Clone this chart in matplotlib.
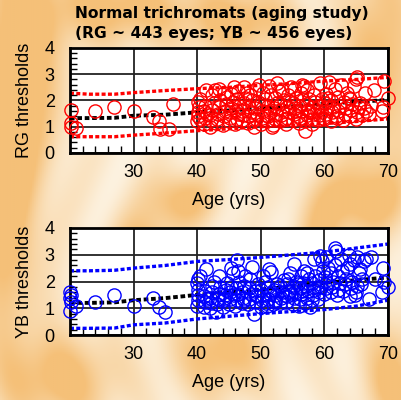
import numpy as np
import matplotlib
matplotlib.use("Agg")
import matplotlib.pyplot as plt
from matplotlib.ticker import MultipleLocator

# ---- data ----
rg_points = [
    (20.1, 1.65), (20.1, 1.15), (20.2, 1.0), (21.0, 0.95), (24.0, 1.6), (27.0, 1.75),
    (30.0, 1.6), (33.0, 1.38), (34.0, 1.2), (34.2, 0.92), (35.5, 0.9), (36.2, 1.85),
    (40.0, 1.2), (40.1, 1.4), (40.2, 1.55), (40.3, 1.75), (40.2, 1.95), (40.5, 2.05), (40.4, 1.3),
    (41.0, 1.1), (41.2, 1.35), (41.1, 1.6), (41.3, 1.8), (41.4, 2.4), (41.6, 1.5),
    (42.0, 1.0), (42.2, 1.25), (42.1, 1.45), (42.4, 1.65), (42.3, 2.2), (42.6, 1.9), (42.8, 2.4),
    (43.0, 1.15), (43.2, 1.3), (43.3, 1.5), (43.5, 1.75), (43.6, 2.0), (43.4, 2.45),
    (44.0, 1.05), (44.2, 1.4), (44.4, 1.6), (44.5, 1.85), (44.7, 2.15), (44.3, 2.3),
    (45.0, 1.2), (45.2, 1.35), (45.1, 1.55), (45.4, 1.7), (45.6, 1.95), (45.3, 2.25), (45.8, 2.5),
    (46.0, 1.1), (46.2, 1.3), (46.4, 1.5), (46.1, 1.65), (46.6, 1.8), (46.3, 2.05), (46.5, 2.35),
    (47.0, 1.25), (47.2, 1.45), (47.1, 1.6), (47.4, 1.9), (47.6, 2.1), (47.3, 2.5), (47.8, 2.3),
    (48.0, 1.15), (48.2, 1.4), (48.4, 1.55), (48.1, 1.75), (48.6, 2.0), (48.3, 2.2), (48.8, 1.3),
    (49.0, 1.0), (49.2, 1.3), (49.4, 1.5), (49.1, 1.7), (49.6, 1.95), (49.3, 2.45), (49.8, 2.6),
    (50.0, 1.1), (50.2, 1.35), (50.4, 1.6), (50.1, 1.85), (50.6, 2.05), (50.3, 2.3), (50.8, 1.45),
    (51.0, 1.2), (51.2, 1.4), (51.4, 1.55), (51.1, 1.8), (51.6, 2.2), (51.3, 2.55), (51.8, 1.0),
    (52.0, 1.05), (52.2, 1.3), (52.4, 1.5), (52.1, 1.7), (52.6, 1.9), (52.3, 2.1), (52.8, 2.35), (52.5, 2.65),
    (53.0, 1.2), (53.2, 1.45), (53.4, 1.65), (53.1, 1.85), (53.6, 2.0), (53.3, 2.4), (53.8, 1.3),
    (54.0, 1.1), (54.2, 1.35), (54.4, 1.55), (54.1, 1.75), (54.6, 1.95), (54.3, 2.2), (54.8, 2.5),
    (55.0, 1.25), (55.2, 1.5), (55.4, 1.7), (55.1, 1.9), (55.6, 2.1), (55.3, 2.45), (55.8, 1.4), (55.5, 1.6),
    (56.0, 1.15), (56.2, 1.35), (56.4, 1.6), (56.1, 1.8), (56.6, 2.0), (56.3, 2.3), (56.8, 2.55), (56.5, 2.6),
    (57.0, 1.2), (57.2, 1.45), (57.4, 1.65), (57.1, 1.85), (57.6, 2.05), (57.3, 2.4), (57.0, 0.85), (57.8, 1.55),
    (58.0, 1.1), (58.2, 1.3), (58.4, 1.5), (58.1, 1.75), (58.6, 1.95), (58.3, 2.2), (58.8, 1.6),
    (59.0, 1.25), (59.2, 1.45), (59.4, 1.6), (59.1, 1.8), (59.6, 2.05), (59.3, 2.65), (59.8, 1.35),
    (60.0, 1.3), (60.2, 1.5), (60.4, 1.7), (60.1, 1.9), (60.6, 2.1), (60.3, 2.25), (60.8, 2.7),
    (61.0, 1.2), (61.2, 1.55), (61.4, 1.75), (61.1, 2.0), (61.6, 2.45), (61.8, 1.4),
    (62.0, 1.35), (62.2, 1.6), (62.4, 1.8), (62.1, 2.15), (62.6, 2.6),
    (63.0, 1.25), (63.2, 1.5), (63.4, 1.7), (63.1, 1.95), (63.6, 2.3), (63.8, 2.1),
    (64.0, 1.4), (64.2, 1.65), (64.4, 1.85), (64.1, 2.05), (64.6, 2.55),
    (65.0, 1.3), (65.2, 1.55), (65.4, 1.75), (65.1, 2.9), (65.0, 2.8), (65.6, 1.9),
    (66.0, 1.45), (66.2, 1.7), (66.4, 2.3), (66.6, 1.6),
    (67.0, 1.5), (67.3, 1.8), (67.8, 2.4),
    (69.0, 1.6), (69.2, 1.75), (69.4, 2.75), (70.0, 2.1),
]

yb_points = [
    (20.0, 1.6), (20.1, 1.5), (20.0, 1.4), (20.1, 1.25), (20.0, 0.9), (21.0, 1.1),
    (24.0, 1.22), (27.0, 1.5), (30.0, 1.1), (33.0, 1.38), (34.0, 1.05), (35.0, 0.85),
    (40.0, 1.1), (40.1, 1.3), (40.2, 1.5), (40.1, 1.7), (40.0, 1.95), (40.2, 2.1), (40.4, 2.2),
    (41.0, 1.05), (41.2, 1.25), (41.1, 1.45), (41.3, 1.65), (41.4, 2.45), (41.6, 1.35),
    (42.0, 1.0), (42.2, 1.2), (42.1, 1.4), (42.4, 1.6), (42.3, 1.85), (42.6, 2.0),
    (43.0, 0.85), (43.2, 1.15), (43.3, 1.35), (43.5, 1.55), (43.6, 1.8), (43.4, 2.2),
    (44.0, 1.05), (44.2, 1.3), (44.4, 1.5), (44.5, 1.7), (44.7, 1.95), (44.3, 1.4),
    (45.0, 1.15), (45.2, 1.35), (45.1, 1.6), (45.4, 1.8), (45.6, 2.3), (45.3, 2.5), (45.8, 1.5),
    (46.0, 1.1), (46.2, 1.3), (46.4, 1.55), (46.1, 1.75), (46.6, 2.0), (46.3, 2.8), (46.5, 2.4),
    (47.0, 1.2), (47.2, 1.4), (47.1, 1.6), (47.4, 1.85), (47.6, 2.2), (47.3, 1.3),
    (48.0, 1.15), (48.2, 1.35), (48.4, 1.55), (48.1, 1.75), (48.6, 2.55), (48.3, 2.1),
    (49.0, 0.8), (49.2, 1.25), (49.4, 1.45), (49.1, 1.65), (49.6, 1.9), (49.3, 1.5),
    (50.0, 1.05), (50.2, 1.3), (50.4, 1.5), (50.1, 1.7), (50.6, 2.0), (50.3, 2.2), (50.8, 1.2),
    (51.0, 1.1), (51.2, 1.35), (51.4, 1.55), (51.1, 1.8), (51.6, 2.35), (51.3, 2.45), (51.8, 1.6),
    (52.0, 1.15), (52.2, 1.3), (52.4, 1.5), (52.1, 1.7), (52.6, 1.9), (52.3, 1.25),
    (53.0, 1.2), (53.2, 1.4), (53.4, 1.6), (53.1, 1.85), (53.6, 2.05), (53.8, 1.5),
    (54.0, 1.25), (54.2, 1.45), (54.4, 1.65), (54.1, 1.9), (54.6, 2.3), (54.3, 2.1), (54.8, 1.55),
    (55.0, 1.15), (55.2, 1.4), (55.4, 1.6), (55.1, 1.8), (55.6, 2.0), (55.3, 2.65), (55.8, 1.9),
    (56.0, 1.1), (56.2, 1.35), (56.4, 1.55), (56.1, 1.75), (56.6, 1.95), (56.3, 2.2), (56.8, 2.4), (56.5, 1.65),
    (57.0, 1.2), (57.2, 1.4), (57.4, 1.65), (57.1, 1.85), (57.6, 2.1), (57.3, 2.3), (57.8, 1.05),
    (58.0, 1.3), (58.2, 1.5), (58.4, 1.7), (58.1, 1.95), (58.6, 2.2), (58.3, 2.85), (58.8, 1.8),
    (59.0, 1.35), (59.2, 1.6), (59.4, 1.8), (59.1, 2.05), (59.6, 2.75), (59.3, 2.95), (59.8, 2.4),
    (60.0, 1.55), (60.2, 1.75), (60.4, 1.95), (60.1, 2.15), (60.6, 2.5), (60.3, 2.9),
    (61.0, 1.6), (61.2, 1.8), (61.4, 2.0), (61.1, 2.3), (61.6, 2.6), (61.8, 3.15), (61.7, 3.25),
    (62.0, 1.5), (62.2, 1.7), (62.4, 1.95), (62.1, 2.2), (62.6, 2.85), (62.8, 2.4),
    (63.0, 1.65), (63.2, 1.9), (63.4, 2.1), (63.6, 2.5), (63.8, 3.0),
    (64.0, 1.45), (64.2, 1.75), (64.4, 2.0), (64.1, 2.65), (64.6, 2.8), (64.8, 1.5),
    (65.0, 1.6), (65.2, 1.85), (65.4, 2.3), (65.1, 2.9), (65.6, 2.45), (65.7, 1.9),
    (66.0, 2.1), (66.2, 2.75), (66.6, 2.85),
    (67.0, 1.35), (67.3, 2.9), (68.0, 2.1),
    (69.0, 1.6), (69.2, 2.5), (69.4, 2.0), (70.0, 1.8),
]

# fitted mean and limits (age knots)
fit_age = [20, 23, 27, 30, 35, 40, 45, 50, 55, 60, 65, 70]
rg_mean = [1.33, 1.33, 1.34, 1.42, 1.46, 1.55, 1.62, 1.7, 1.78, 1.88, 1.95, 2.02]
rg_upper = [2.28, 2.24, 2.24, 2.3, 2.38, 2.45, 2.5, 2.58, 2.65, 2.74, 2.8, 2.88]
rg_lower = [0.62, 0.62, 0.62, 0.68, 0.76, 0.85, 0.92, 1.0, 1.06, 1.12, 1.2, 1.3]
yb_mean = [1.2, 1.2, 1.22, 1.3, 1.38, 1.5, 1.6, 1.7, 1.82, 1.95, 2.05, 2.15]
yb_upper = [2.4, 2.4, 2.42, 2.5, 2.6, 2.75, 2.82, 2.9, 3.0, 3.1, 3.25, 3.4]
yb_lower = [0.25, 0.25, 0.26, 0.38, 0.45, 0.6, 0.7, 0.8, 0.88, 0.95, 1.08, 1.3]

plt.rcParams['font.family'] = ['Liberation Sans', 'DejaVu Sans']

fig = plt.figure(figsize=(4.02, 4.0), dpi=100)

# warm blurred background: soft orange blobs on cream
bg = fig.add_axes([0, 0, 1, 1], zorder=-10)
yy, xx = np.mgrid[1:0:200j, 0:1:200j]
blobs = [(0.05, 0.9, 0.08, 0.25), (0.3, 0.98, 0.12, 0.06), (0.6, 0.95, 0.1, 0.06),
         (0.95, 0.85, 0.06, 0.2), (0.02, 0.45, 0.05, 0.25), (0.45, 0.5, 0.06, 0.05),
         (0.9, 0.5, 0.08, 0.06), (0.15, 0.05, 0.1, 0.08), (0.55, 0.12, 0.08, 0.08),
         (0.8, 0.35, 0.04, 0.1), (0.35, 0.38, 0.05, 0.06), (0.98, 0.05, 0.05, 0.1)]
tex = np.zeros_like(xx)
for bx, by, sx, sy in blobs:
    tex += np.exp(-((xx - bx) / sx) ** 2 / 2 - ((yy - by) / sy) ** 2 / 2)
tex += 0.25 * (np.sin(xx * 40 + np.sin(yy * 6) * 3) * 0.5 + 0.5)
tex = np.clip(tex, 0, 1)
c1 = np.array([0xfd, 0xf3, 0xe2]) / 255.
c2 = np.array([0xf5, 0xc0, 0x78]) / 255.
img = c1 + (c2 - c1) * tex[..., None]
bg.imshow(img, extent=[0, 1, 0, 1], aspect='auto')
bg.set_axis_off()


def panel(rect, pts, color, mean, upper, lower, ylabel):
    ax = fig.add_axes(rect)
    ax.set_facecolor('white')
    pts = np.array(pts)
    ax.plot(fit_age, upper, color=color, lw=2.4, ls=(0, (1.2, 0.7)), dash_capstyle='butt', zorder=2)
    ax.plot(fit_age, lower, color=color, lw=2.4, ls=(0, (1.2, 0.7)), dash_capstyle='butt', zorder=2)
    ax.plot(fit_age, mean, color='black', lw=2.8, ls=(0, (1.2, 0.7)), dash_capstyle='butt', zorder=2)
    ax.plot(pts[:, 0], pts[:, 1], 'o', mfc='none', mec=color, ms=9.5, mew=1.0, zorder=3, clip_on=False)
    ax.set_xlim(20, 70)
    ax.set_ylim(0, 4)
    ax.set_xticks([20, 30, 40, 50, 60, 70])
    ax.set_xticklabels(['', '30', '40', '50', '60', '70'])
    ax.set_yticks([0, 1, 2, 3, 4])
    ax.xaxis.set_minor_locator(MultipleLocator(2))
    ax.yaxis.set_minor_locator(MultipleLocator(0.2))
    ax.tick_params(which='both', direction='in', labelsize=13, color='black')
    ax.tick_params(which='major', length=0, pad=8)
    ax.tick_params(which='minor', length=5, width=1)
    ax.tick_params(axis='y', which='major', pad=11)
    ax.grid(True, which='major', color='#222222', lw=1.3, zorder=1)
    for s in ax.spines.values():
        s.set_linewidth(2)
    ax.set_xlabel('Age (yrs)', fontsize=13, labelpad=8)
    ax.set_ylabel(ylabel, fontsize=13, labelpad=8)
    return ax


panel([0.174, 0.6175, 0.791, 0.2625], rg_points, '#ff0000', rg_mean, rg_upper, rg_lower, 'RG thresholds')
panel([0.174, 0.1625, 0.791, 0.2675], yb_points, '#0000ff', yb_mean, yb_upper, yb_lower, 'YB thresholds')

title_font = ['DejaVu Sans', 'Liberation Sans']
fig.text(0.187, 0.966, 'Normal trichromats (aging study)', fontsize=11.2, fontweight='bold',
         va='center', family=title_font)
fig.text(0.187, 0.917, '(RG ~ 443 eyes; YB ~ 456 eyes)', fontsize=11.2, fontweight='bold',
         va='center', family=title_font)

fig.savefig('out.png', dpi=100)
